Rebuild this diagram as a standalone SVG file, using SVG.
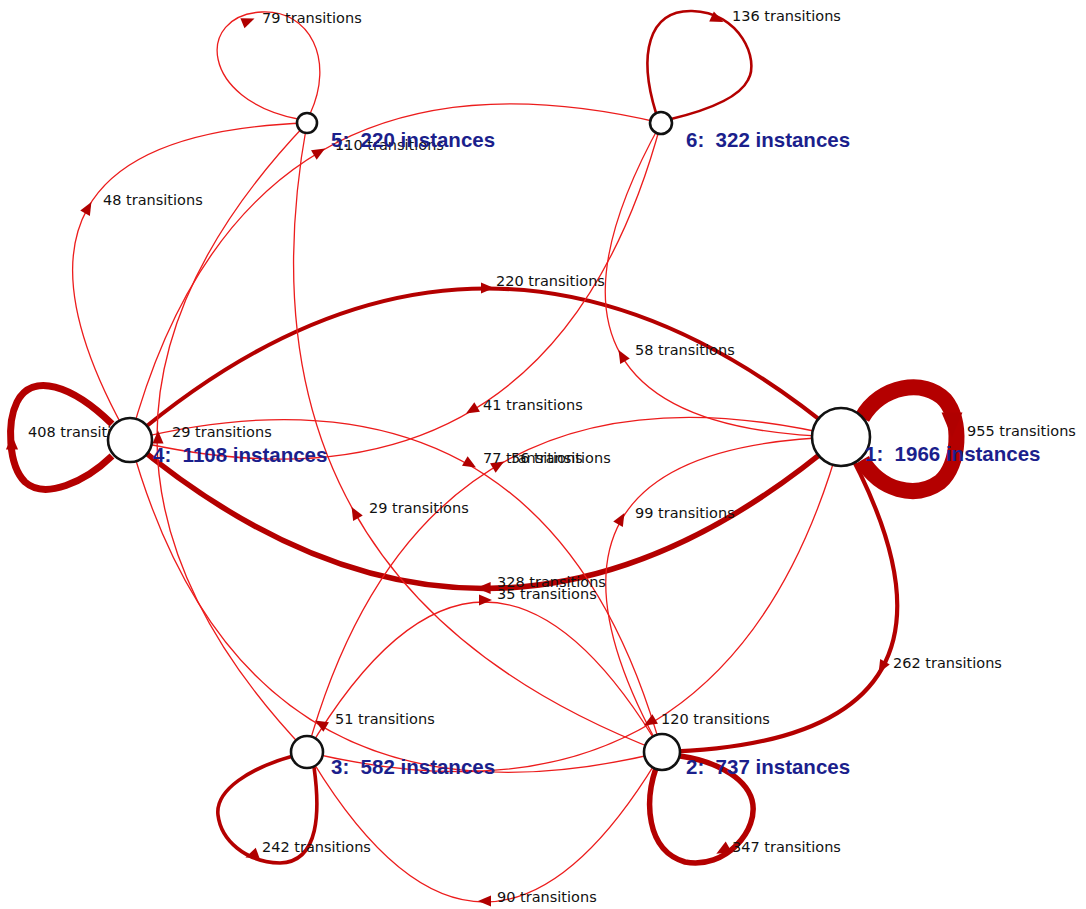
<svg xmlns="http://www.w3.org/2000/svg" width="1086" height="909" viewBox="0 0 1086 909">
<defs>
<style>
.e{fill:none;stroke:#ec1c1c;stroke-width:1.3}
.k{fill:none;stroke:#b40000}
.a{fill:#b00000}
.tl{font-family:"DejaVu Sans",sans-serif;font-size:14.5px;fill:#111}
.nl{font-family:"Liberation Sans",Arial,sans-serif;font-weight:bold;font-size:20.5px;fill:#1b1f8c;white-space:pre}
.n{fill:#fff;stroke:#111;stroke-width:2.6}
</style>
<path id="ah" d="M7,0 L-6,-5.5 L-6,5.5 Z"/>
</defs>
<rect width="1086" height="909" fill="#fff"/>
<g id="connectors">
<!-- self loops -->
<path class="e" d="M298,119 C200,100 195,15 262,12 C310,10 335,60 310,114"/>
<path class="k" stroke-width="2.6" d="M656,113 C638,55 648,10 692,11 C740,12 760,60 748,80 C738,100 700,112 671,119"/>
<path class="k" stroke-width="7" d="M112,424 C72,385 32,372 17,402 C7,422 8,465 25,482 C45,500 85,482 112,456"/>
<path class="k" stroke-width="16" stroke="#a80000" d="M862,418 C880,385 925,378 945,400 C962,420 960,465 940,482 C915,500 880,490 862,460"/>
<path class="k" stroke-width="3.6" d="M293,756 C250,768 215,790 218,815 C221,840 245,862 280,863 C320,862 320,810 314,767"/>
<path class="k" stroke-width="5.5" d="M656,768 C645,800 645,850 685,862 C725,870 760,830 752,800 C745,775 710,760 680,756"/>
<!-- edges -->
<path class="k" stroke-width="4" d="M130,440 Q484.2,138.5 841,437"/>
<path class="k" stroke-width="5.5" d="M841,437 Q486.8,738.5 130,440"/>
<path class="k" stroke-width="4.2" d="M841,437 Q1012.3,742.7 662,752"/>
<path class="e" d="M662,752 Q490.7,446.3 841,437"/>
<path class="e" d="M841,437 Q726.4,852.8 307,752"/>
<path class="e" d="M307,752 Q421.6,336.2 841,437"/>
<path class="e" d="M307,752 Q484.5,452 662,752"/>
<path class="e" d="M662,752 Q484.5,1052 307,752"/>
<path class="e" d="M662,752 Q244.2,854.8 130,440"/>
<path class="e" d="M130,440 Q547.8,337.1 662,752"/>
<path class="e" d="M662,752 Q223.2,584.9 307,123"/>
<path class="e" d="M307,752 Q7,437.5 307,123"/>
<path class="e" d="M130,440 Q-43.4,135.3 307,123"/>
<path class="e" d="M130,440 Q241.7,23.9 661,123"/>
<path class="e" d="M661,123 Q549.3,539.1 130,440"/>
<path class="e" d="M841,437 Q490.6,429.2 661,123"/>
<!-- arrowheads -->
<use href="#ah" class="a" transform="translate(248,21) rotate(-22)"/>
<use href="#ah" class="a" transform="translate(717,19) rotate(25)"/>
<use href="#ah" class="a" transform="translate(12,443) rotate(-90) scale(1.1)"/>
<use href="#ah" class="a" transform="translate(952,424) rotate(90) scale(1.9)"/>
<use href="#ah" class="a" transform="translate(252,855) rotate(160)"/>
<use href="#ah" class="a" transform="translate(723,850) rotate(150) scale(1.1)"/>
<use href="#ah" class="a" transform="translate(487,288) rotate(0)"/>
<use href="#ah" class="a" transform="translate(484,588) rotate(180) scale(1.1)"/>
<use href="#ah" class="a" transform="translate(882,667) rotate(119.6)"/>
<use href="#ah" class="a" transform="translate(621,519) rotate(-60.4)"/>
<use href="#ah" class="a" transform="translate(650,722) rotate(149.5)"/>
<use href="#ah" class="a" transform="translate(498,465) rotate(-30.5)"/>
<use href="#ah" class="a" transform="translate(485,600) rotate(0)"/>
<use href="#ah" class="a" transform="translate(485,901) rotate(180)"/>
<use href="#ah" class="a" transform="translate(321,724) rotate(-149.6)"/>
<use href="#ah" class="a" transform="translate(470,464) rotate(30.4)"/>
<use href="#ah" class="a" transform="translate(355,513) rotate(-119.4)"/>
<use href="#ah" class="a" transform="translate(158,437.5) rotate(-90)"/>
<use href="#ah" class="a" transform="translate(88,208) rotate(-60.8)"/>
<use href="#ah" class="a" transform="translate(319,152) rotate(-30.8)"/>
<use href="#ah" class="a" transform="translate(472,410) rotate(149.2)"/>
<use href="#ah" class="a" transform="translate(622,356) rotate(-119.8)"/>
<!-- labels -->
<text class="tl" x="262" y="23">79 transitions</text>
<text class="tl" x="732" y="21">136 transitions</text>
<text class="tl" x="28" y="437">408 transitions</text>
<text class="tl" x="967" y="436">955 transitions</text>
<text class="tl" x="262" y="852">242 transitions</text>
<text class="tl" x="732" y="852">347 transitions</text>
<text class="tl" x="496" y="286">220 transitions</text>
<text class="tl" x="497" y="587">328 transitions</text>
<text class="tl" x="893" y="668">262 transitions</text>
<text class="tl" x="635" y="518">99 transitions</text>
<text class="tl" x="661" y="724">120 transitions</text>
<text class="tl" x="511" y="463">56 transitions</text>
<text class="tl" x="497" y="599">35 transitions</text>
<text class="tl" x="497" y="902">90 transitions</text>
<text class="tl" x="335" y="724">51 transitions</text>
<text class="tl" x="483" y="463">77 transitions</text>
<text class="tl" x="369" y="513">29 transitions</text>
<text class="tl" x="172" y="437">29 transitions</text>
<text class="tl" x="103" y="205">48 transitions</text>
<text class="tl" x="335" y="150">110 transitions</text>
<text class="tl" x="483" y="410">41 transitions</text>
<text class="tl" x="635" y="355">58 transitions</text>
</g>
<g id="node5"><circle class="n" cx="307" cy="123" r="10"/><text class="nl" x="331" y="147">5:  220 instances</text></g>
<g id="node6"><circle class="n" cx="661" cy="123" r="11"/><text class="nl" x="686" y="147">6:  322 instances</text></g>
<g id="node4"><circle class="n" cx="130" cy="440" r="22"/><text class="nl" x="153" y="462">4:  1108 instances</text></g>
<g id="node1"><circle class="n" cx="841" cy="437" r="29"/><text class="nl" x="865" y="461">1:  1966 instances</text></g>
<g id="node3"><circle class="n" cx="307" cy="752" r="16"/><text class="nl" x="331" y="774">3:  582 instances</text></g>
<g id="node2"><circle class="n" cx="662" cy="752" r="18"/><text class="nl" x="686" y="774">2:  737 instances</text></g>
</svg>
